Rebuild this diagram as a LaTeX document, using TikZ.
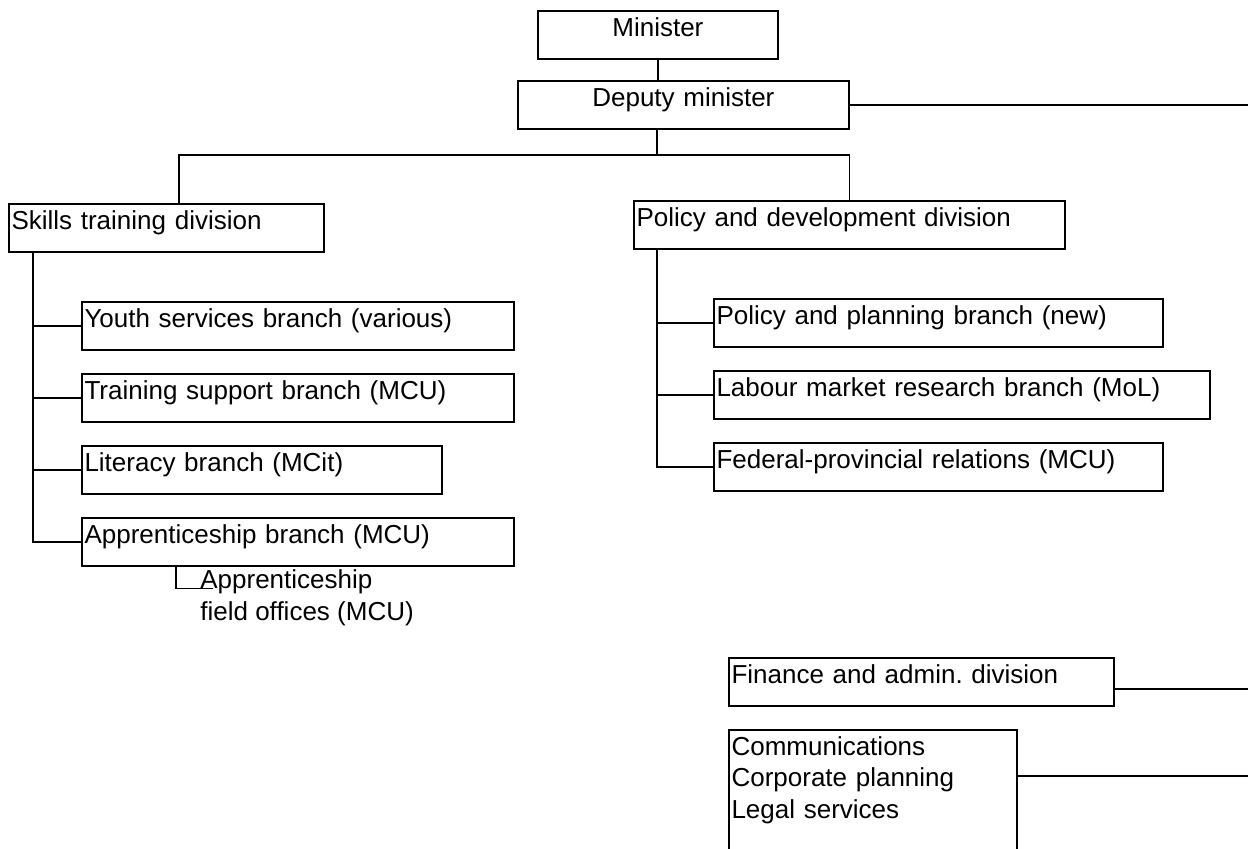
\documentclass[tikz,border=0pt]{standalone}
\usepackage{fontspec}
\setmainfont{Liberation Sans}
\usepackage{tikz}
\usetikzlibrary{calc}
\frenchspacing
\tikzset{
  post/.style={draw=black, line width=1pt, anchor=north west, align=left,
    inner xsep=1.5pt, inner ysep=3pt, text height=11.45pt, text depth=9.75pt,
    text width=#1-3pt, font=\fontsize{14.8}{18}\selectfont},
  head/.style={post=#1, align=center},
  link/.style={draw=black, line width=1pt},
  note/.style={anchor=base west, align=left, inner sep=0pt,
    font=\fontsize{14.8}{18}\selectfont},
}

\begin{document}
\begin{tikzpicture}
  \useasboundingbox (0,0) rectangle (24.96,-16.96);
  \coordinate (rim) at (24.96,0);
  % top of the ministry
  \node[head=4.80cm] (min) at (10.74,-0.20) {Minister};
  \node[head=6.62cm] (dep) at (10.34,-1.60) {Deputy minister};
  % divisions
  \node[post=6.30cm] (skl) at (0.16,-4.06) {Skills training division};
  \node[post=8.62cm] (pol) at (12.66,-4.00) {Policy and development division};
  % skills branches
  \node[post=8.64cm] (yth) at (1.62,-6.02) {Youth services branch (various)};
  \node[post=8.64cm] (trn) at (1.62,-7.46) {Training support branch (MCU)};
  \node[post=7.20cm] (lit) at (1.62,-8.90) {Literacy branch (MCit)};
  \node[post=8.64cm] (apr) at (1.62,-10.34) {Apprenticeship branch (MCU)};
  \node[note] (fo) at (4.00,-12.40) {Apprenticeship\\field offices (MCU)};
  % policy branches
  \node[post=8.98cm] (ppb) at (14.26,-5.96) {Policy and planning branch (new)};
  \node[post=9.92cm] (lmr) at (14.26,-7.40) {Labour market research branch (MoL)};
  \node[post=8.98cm] (fpr) at (14.26,-8.84) {Federal-provincial relations (MCU)};
  % support units
  \node[post=7.70cm] (fin) at (14.56,-13.14) {Finance and admin. division};
  \node[post=5.76cm, text depth=51pt] (com) at (14.56,-14.58)
    {Communications\\Corporate planning\\Legal services};

  \draw[link] (min.south) -- (min.south |- dep.north);
  \draw[link] (dep.east) -- (dep.east -| rim);
  \coordinate (fork) at (13.14,-3.10);
  \draw[link] (fork |- dep.south) -- (fork);
  \draw[link] ([xshift=0.25cm]skl.north) |- (fork) -| (pol.north);

  \coordinate (st) at ([xshift=0.50cm]skl.south west);
  \draw[link] (st) |- (apr.west);
  \foreach \b in {yth,trn,lit}
    \draw[link] (st |- \b.west) -- (\b.west);
  \draw[link] ([xshift=1.90cm]apr.south west) |- ([xshift=0.26cm,yshift=18pt]fo.base west);

  \coordinate (pt) at ([xshift=0.48cm]pol.south west);
  \draw[link] (pt) |- (fpr.west);
  \foreach \b in {ppb,lmr}
    \draw[link] (pt |- \b.west) -- (\b.west);

  \draw[link] ([yshift=-0.14cm]fin.east) -- ([yshift=-0.14cm]fin.east -| rim);
  \draw[link] ([yshift=-0.94cm]com.north east) -- ([yshift=-0.94cm]com.north east -| rim);
\end{tikzpicture}
\end{document}
